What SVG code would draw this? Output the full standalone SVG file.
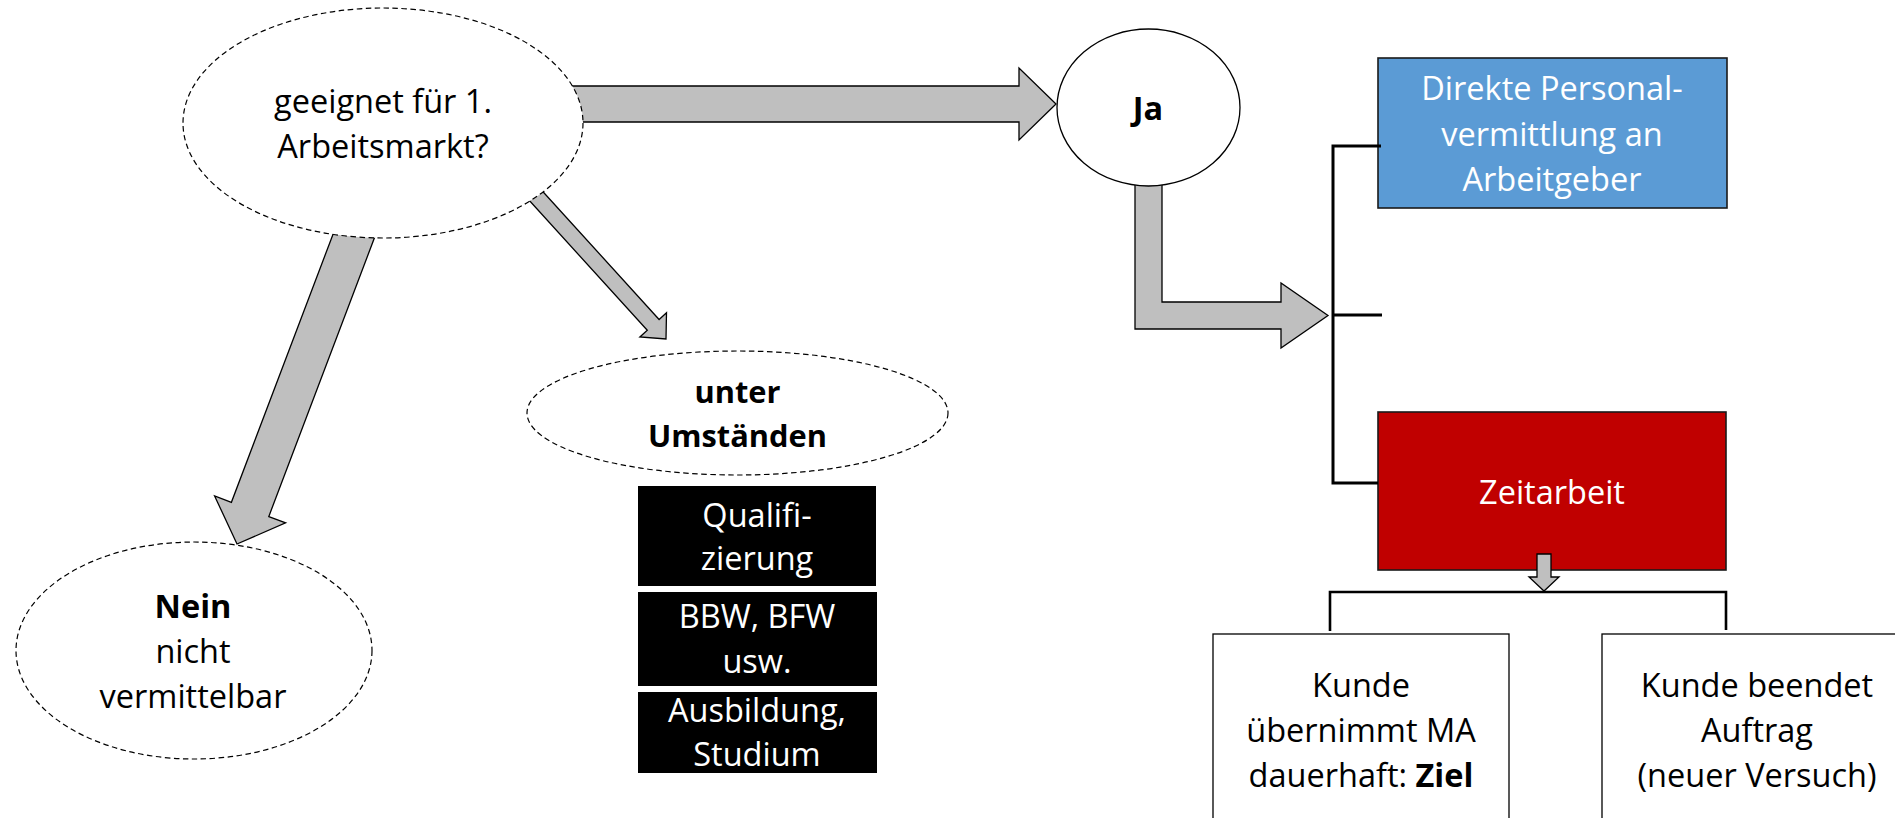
<svg xmlns="http://www.w3.org/2000/svg" width="1895" height="818" viewBox="0 0 1895 818">
<style>
  .t { font-family: "Open Sans", "Liberation Sans", sans-serif; font-size: 32.5px; text-anchor: middle; fill: #000; }
  .b { font-weight: bold; }
  .bs { font-size: 30.8px; }
  .w { fill: #fff; }
  .dash { fill: #fff; stroke: #000; stroke-width: 1.2; stroke-dasharray: 5.5 3.5; }
  .solid { fill: #fff; stroke: #000; stroke-width: 1.3; }
  .arrow { fill: #BFBFBF; stroke: #000; stroke-width: 1.3; stroke-linejoin: miter; }
  .br { fill: none; stroke: #000; stroke-width: 3; }
  .br2 { fill: none; stroke: #000; stroke-width: 2.6; }
  .box { stroke: #1a1a1a; stroke-width: 1.6; }
  .kbox { fill: #fff; stroke: #000; stroke-width: 1.3; }
</style>
<rect x="0" y="0" width="1895" height="818" fill="#fff"/>

<g id="node-zeitarbeit">
  <rect class="box" x="1378" y="412" width="348" height="158" fill="#C00000"/>
  <text class="t w" x="1552" y="504">Zeitarbeit</text>
</g>
<g id="node-direkt">
  <rect class="box" x="1378" y="58" width="349" height="150" fill="#5B9BD5"/>
  <text class="t w" x="1552" y="100">Direkte Personal-</text>
  <text class="t w" x="1552" y="146">vermittlung an</text>
  <text class="t w" x="1552" y="191">Arbeitgeber</text>
</g>

<g id="connectors">
  <path class="arrow" d="M570,86 L1019,86 L1019,68 L1056,104 L1019,140 L1019,122 L570,122 Z"/>
  <path class="arrow" d="M339.6,216.9 L231.4,502.3 L214.6,495.9 L237,544 L285.6,522.9 L268.8,516.5 L377,231.1 Z"/>
  <path class="arrow" d="M534.8,182.7 L659.1,319.5 L666.5,312.8 L666,339 L639.9,337 L647.3,330.3 L523,193.5 Z"/>
  <path class="arrow" d="M1135,170 L1135,329 L1281,329 L1281,348 L1328,315.5 L1281,283 L1281,302 L1162,302 L1162,170 Z"/>
  <path class="arrow" d="M1537,554 L1551,554 L1551,577 L1559,577 L1544,591 L1529,577 L1537,577 Z"/>
  <polyline class="br" points="1381,146 1333,146 1333,483 1378,483"/>
  <line class="br" x1="1333" y1="315" x2="1382" y2="315"/>
  <polyline class="br2" points="1330,631 1330,592 1726,592 1726,630"/>
</g>

<g id="node-geeignet">
  <ellipse class="dash" cx="383" cy="123" rx="200" ry="115"/>
  <text class="t" x="383" y="113">geeignet für 1.</text>
  <text class="t" x="383" y="158">Arbeitsmarkt?</text>
</g>
<g id="node-ja">
  <ellipse class="solid" cx="1148.5" cy="107.5" rx="91.5" ry="78.5"/>
  <text class="t b" x="1148" y="120">Ja</text>
</g>
<g id="node-nein">
  <ellipse class="dash" cx="194" cy="650.5" rx="178" ry="108.5"/>
  <text class="t b" x="193" y="618">Nein</text>
  <text class="t" x="193" y="663">nicht</text>
  <text class="t" x="193" y="708">vermittelbar</text>
</g>
<g id="node-unter">
  <ellipse class="dash" cx="737.5" cy="413" rx="210.5" ry="62"/>
  <text class="t b bs" x="737.5" y="403">unter</text>
  <text class="t b bs" x="737.5" y="447">Umständen</text>
</g>
<g id="node-qualifizierung">
  <rect x="638" y="486" width="238" height="100" fill="#000"/>
  <text class="t w" x="757" y="527">Qualifi-</text>
  <text class="t w" x="757" y="570">zierung</text>
</g>
<g id="node-bbw">
  <rect x="638" y="592" width="239" height="94" fill="#000"/>
  <text class="t w" x="757" y="628">BBW, BFW</text>
  <text class="t w" x="757" y="673">usw.</text>
</g>
<g id="node-ausbildung">
  <rect x="638" y="692" width="239" height="81" fill="#000"/>
  <text class="t w" x="757" y="722">Ausbildung,</text>
  <text class="t w" x="757" y="766">Studium</text>
</g>
<g id="node-kunde-ziel">
  <rect class="kbox" x="1213" y="634" width="296" height="200"/>
  <text class="t" x="1361" y="697">Kunde</text>
  <text class="t" x="1361" y="742">übernimmt MA</text>
  <text class="t" x="1361" y="787">dauerhaft: <tspan class="b">Ziel</tspan></text>
</g>
<g id="node-kunde-beendet">
  <rect class="kbox" x="1602" y="634" width="310" height="200"/>
  <text class="t" x="1757" y="697">Kunde beendet</text>
  <text class="t" x="1757" y="742">Auftrag</text>
  <text class="t" x="1757" y="787">(neuer Versuch)</text>
</g>
</svg>
